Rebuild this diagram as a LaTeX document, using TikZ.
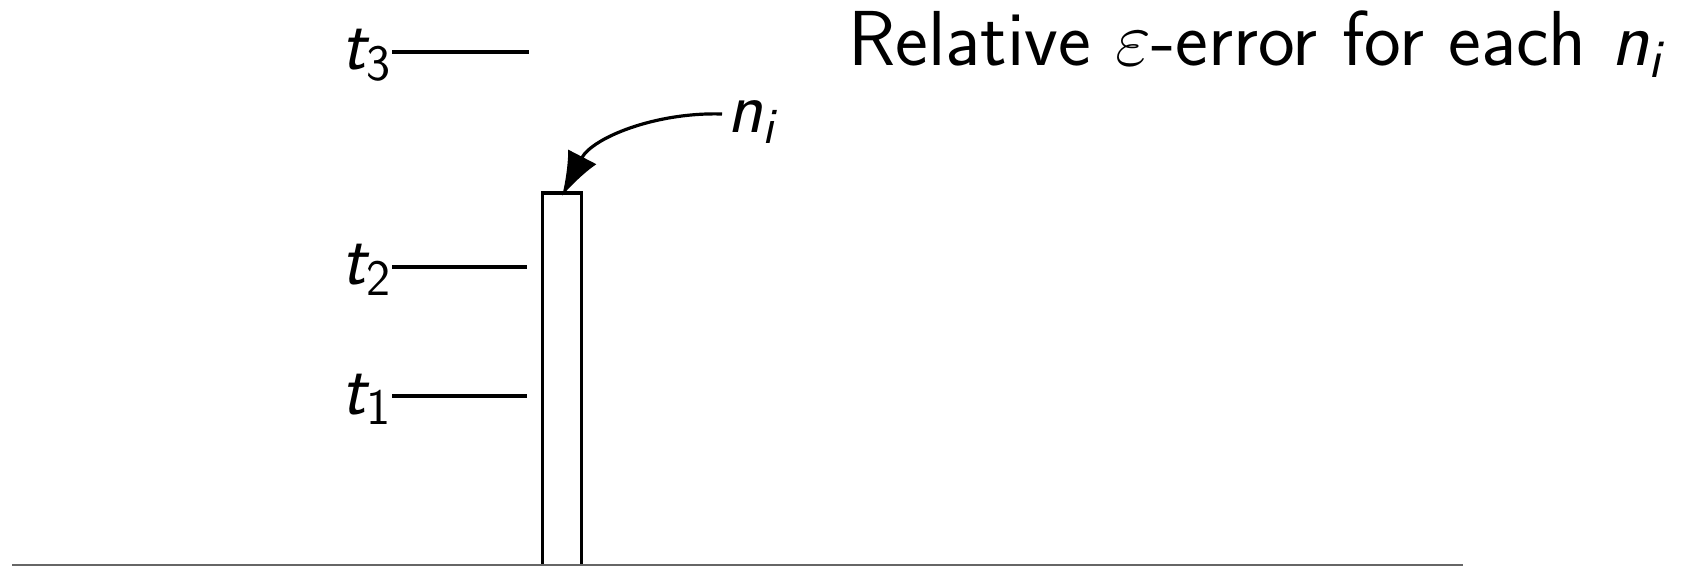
\RequirePackage{fix-cm}
\documentclass[tikz,border=0pt]{standalone}
\usepackage{amsmath}
\usepackage{fontspec}
\usetikzlibrary{arrows.meta}
\newcommand\sfv[1]{\textsf{\itshape #1}}
\begin{document}
\begin{tikzpicture}[x=0.5pt,y=-0.5pt,
  lbl/.style={inner sep=0pt, font=\fontsize{36.5}{43}\selectfont\sffamily},
  ttl/.style={inner sep=0pt, font=\fontsize{39}{47}\selectfont\sffamily},
  tickline/.style={line width=1.6pt},
  barbox/.style={draw, line width=1.6pt, inner sep=0pt, minimum width=19.6pt, minimum height=188pt},
  axisline/.style={line width=1pt, draw=black!60},
  pointer/.style={line width=1.6pt, -{Latex[length=22pt,width=16pt]}}]
\useasboundingbox (0,0) rectangle (1689,566);
% bar
\node[barbox] (bar) at (562,381) {};
% axis
\coordinate (axl) at (12,565);
\coordinate (axr) at (1463,565);
\draw[axisline] (axl) -- (axr);
% tick labels and lines
\node[lbl, anchor=base east] (t3) at (392,70) {$\sfv{t}_{\textsf{3}}$};
\node[lbl, anchor=base east] (t2) at (392,285) {$\sfv{t}_{\textsf{2}}$};
\node[lbl, anchor=base east] (t1) at (392,414) {$\sfv{t}_{\textsf{1}}$};
\coordinate (t3e) at (529,52);
\coordinate (t2e) at (527,267);
\coordinate (t1e) at (527,396);
\draw[tickline] (t3.east |- t3e) -- (t3e);
\draw[tickline] (t2.east |- t2e) -- (t2e);
\draw[tickline] (t1.east |- t1e) -- (t1e);
% n_i label and arrow
\node[lbl, anchor=base west] (ni) at (727,133) {$\sfv{n}_{\sfv{i}}$};
\coordinate (ns) at (722,114);
\coordinate (tip) at (562,196);
\draw[pointer] (ns) .. controls (655,112) and (592,138) .. (tip);
% title
\node[ttl, anchor=base west] (title) at (848,66) {Relative $\varepsilon$-error for each $\sfv{n}_{\sfv{i}}$};
\end{tikzpicture}
\end{document}
